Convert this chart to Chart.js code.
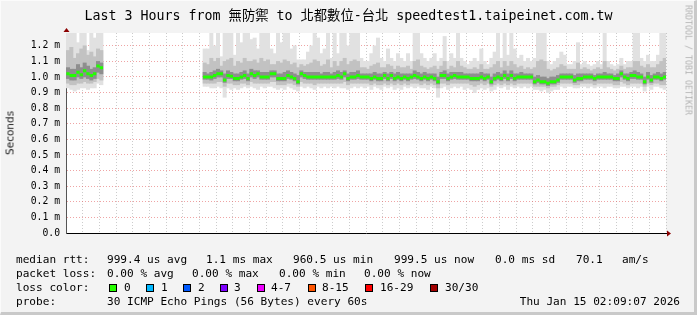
<!DOCTYPE html>
<html>
<head>
<meta charset="utf-8">
<script src="https://cdn.jsdelivr.net/npm/chart.js@4.4.1/dist/chart.umd.min.js"></script>
<style>
  body { margin: 0; background: #f3f3f3; }
  #wrap { position: relative; width: 697px; height: 315px; overflow: hidden; background: #f3f3f3; }
  #wrap:after { content: ""; position: absolute; left: 0; top: 0; right: 0; bottom: 0;
    border-top: 1px solid #fbfbfb; border-left: 1px solid #fbfbfb;
    border-right: 3px solid #c9c9c9; border-bottom: 3px solid #c9c9c9; pointer-events: none; }
  canvas { position: absolute; left: 0; top: 0; }
  .t { position: absolute; font-family: "DejaVu Sans Mono", "Noto Sans CJK TC", monospace;
       font-size: 11.1px; line-height: 11px; color: #000; white-space: pre; }
  .box { position: absolute; width: 6px; height: 6px; border: 1px solid #000; top: 284px; }
</style>
</head>
<body>
<div id="wrap">
  <canvas id="c" width="697" height="315"></canvas>

  <div class="t" style="left:0;width:697px;text-align:center;top:9px;font-size:13.3px;line-height:13px">Last 3 Hours from 無防禦 to 北都數位-台北 speedtest1.taipeinet.com.tw</div>
  <div class="t" style="left:10px;top:133px;font-family:'DejaVu Sans';font-size:10.5px;color:#222;transform:translate(-50%,-50%) rotate(-90deg)">Seconds</div>
  <div class="t" style="left:688px;top:60px;font-size:8.3px;color:#b4b4b4;transform:translate(-50%,-50%) rotate(90deg)">RRDTOOL / TOBI OETIKER</div>

  <div class="t" style="left:16px;top:254px">median rtt:</div>
  <div class="t" style="left:107px;top:254px">999.4 us avg</div>
  <div class="t" style="left:206px;top:254px">1.1 ms max</div>
  <div class="t" style="left:293px;top:254px">960.5 us min</div>
  <div class="t" style="left:394px;top:254px">999.5 us now</div>
  <div class="t" style="left:495px;top:254px">0.0 ms sd</div>
  <div class="t" style="left:576px;top:254px">70.1</div>
  <div class="t" style="left:622px;top:254px">am/s</div>

  <div class="t" style="left:16px;top:268px">packet loss:</div>
  <div class="t" style="left:107px;top:268px">0.00 % avg</div>
  <div class="t" style="left:192px;top:268px">0.00 % max</div>
  <div class="t" style="left:279px;top:268px">0.00 % min</div>
  <div class="t" style="left:364px;top:268px">0.00 % now</div>

  <div class="t" style="left:16px;top:282px">loss color:</div>
  <div id="lossKey"></div>

  <div class="t" style="left:16px;top:296px">probe:</div>
  <div class="t" style="left:107px;top:296px">30 ICMP Echo Pings (56 Bytes) every 60s</div>
  <div class="t" style="right:17px;top:296px">Thu Jan 15 02:09:07 2026</div>
</div>

<script>
// ====== data: one step per 60s, minutes relative to 00:00 ======
const FIRST_STEP = -51;          // 23:09
const GAP = Array(30).fill(null); // no data 23:20 .. 23:50

const medianMs = [
  1.02,1.01,1.01,1.03,1.015,1.04,1.02,1.01,1.02,1.07,1.06,
  ...GAP,
  1.00,1.00,1.00,1.01,1.02,1.02,0.98,1.01,1.005,0.99,
  0.99,1.00,1.01,0.99,1.02,1.01,1.02,1.00,1.00,1.00,
  1.02,1.02,0.99,0.99,0.99,1.01,1.00,0.99,0.97,1.02,
  1.01,1.00,1.00,1.00,1.00,1.00,1.00,1.00,1.00,1.00,
  1.01,1.00,1.02,0.99,1.00,1.00,1.01,1.00,1.00,1.00,
  0.99,1.00,0.99,0.99,1.01,0.99,1.01,0.99,1.00,0.99,
  1.00,0.99,1.00,1.01,1.00,0.99,1.00,0.99,1.00,0.99,
  0.97,1.01,1.01,0.99,1.00,1.01,1.00,1.00,1.00,1.00,
  0.99,0.99,0.99,1.00,0.99,1.00,0.97,0.99,1.00,0.99,
  1.01,0.99,1.01,0.99,1.00,1.00,1.00,1.00,1.00,0.97,
  0.98,0.97,0.97,0.96,0.97,0.97,0.98,1.00,1.00,1.00,
  1.00,0.98,0.99,0.99,1.00,1.00,1.00,0.99,1.00,1.00,
  1.00,1.00,1.00,0.99,0.99,1.02,1.00,0.99,1.01,1.01,
  1.00,1.00,0.97,1.00,0.98,1.00,1.00,0.99,1.00
];

const maxMs = [
  1.3,1.3,1.3,1.22,1.3,1.3,1.17,1.3,1.25,1.3,1.3,
  ...GAP,
  1.18,1.18,1.3,1.2,1.3,1.13,1.3,1.3,1.3,1.14,
  1.3,1.22,1.3,1.3,1.24,1.25,1.18,1.3,1.3,1.3,
  1.18,1.15,1.3,1.22,1.3,1.3,1.18,1.2,1.11,1.11,
  1.11,1.16,1.2,1.3,1.25,1.15,1.18,1.3,1.12,1.3,
  1.15,1.3,1.3,1.2,1.3,1.3,1.3,1.12,1.1,1.1,
  1.15,1.2,1.25,1.12,1.1,1.18,1.12,1.1,1.15,1.12,
  1.1,1.15,1.1,1.3,1.3,1.15,1.12,1.1,1.12,1.15,
  1.1,1.12,1.26,1.1,1.15,1.12,1.3,1.12,1.1,1.08,
  1.1,1.12,1.1,1.18,1.1,1.08,1.12,1.16,1.28,1.12,
  1.3,1.14,1.3,1.18,1.12,1.14,1.1,1.12,1.1,1.12,
  1.3,1.3,1.3,1.1,1.08,1.1,1.12,1.16,1.14,1.08,
  1.08,1.1,1.22,1.08,1.1,1.08,1.07,1.08,1.1,1.08,
  1.3,1.1,1.08,1.07,1.08,1.12,1.08,1.1,1.1,1.3,
  1.3,1.12,1.1,1.14,1.1,1.1,1.14,1.3,1.3
];

const minMs = [
  0.93,0.92,0.91,0.92,0.93,0.93,0.92,0.93,0.93,0.96,0.95,
  ...GAP,
  0.94,0.94,0.93,0.93,0.94,0.93,0.87,0.93,0.92,0.93,
  0.92,0.93,0.94,0.93,0.94,0.93,0.92,0.94,0.93,0.94,
  0.94,0.93,0.92,0.93,0.92,0.94,0.93,0.92,0.91,0.94,
  0.93,0.94,0.93,0.92,0.94,0.93,0.94,0.93,0.94,0.93,
  0.94,0.93,0.93,0.92,0.93,0.94,0.93,0.94,0.93,0.94,
  0.92,0.94,0.93,0.92,0.94,0.93,0.94,0.92,0.93,0.92,
  0.94,0.93,0.94,0.93,0.94,0.93,0.93,0.92,0.94,0.93,
  0.87,0.93,0.94,0.92,0.93,0.94,0.93,0.94,0.92,0.93,
  0.92,0.90,0.92,0.93,0.92,0.93,0.91,0.92,0.94,0.93,
  0.94,0.92,0.94,0.93,0.94,0.93,0.94,0.93,0.94,0.92,
  0.92,0.91,0.92,0.90,0.91,0.92,0.92,0.94,0.93,0.94,
  0.94,0.93,0.93,0.94,0.94,0.93,0.94,0.93,0.94,0.94,
  0.93,0.94,0.94,0.93,0.93,0.94,0.94,0.93,0.94,0.94,
  0.93,0.94,0.91,0.94,0.92,0.94,0.94,0.93,0.92
];

const p90Ms = [
  1.17,1.19,1.12,1.15,1.18,1.2,1.14,1.16,1.13,1.18,1.17,
  ...GAP,
  1.09,1.08,1.12,1.1,1.12,1.07,1.1,1.11,1.12,1.07,
  1.1,1.09,1.12,1.1,1.1,1.11,1.09,1.12,1.1,1.11,
  1.08,1.08,1.1,1.09,1.11,1.1,1.08,1.09,1.06,1.08,
  1.07,1.08,1.09,1.11,1.1,1.07,1.08,1.11,1.06,1.1,
  1.07,1.1,1.12,1.08,1.1,1.11,1.1,1.06,1.06,1.05,
  1.07,1.08,1.09,1.06,1.06,1.08,1.07,1.05,1.07,1.06,
  1.06,1.07,1.05,1.1,1.11,1.07,1.06,1.05,1.06,1.07,
  1.05,1.07,1.1,1.05,1.07,1.06,1.1,1.07,1.06,1.05,
  1.05,1.06,1.05,1.08,1.05,1.05,1.06,1.08,1.1,1.06,
  1.1,1.07,1.1,1.08,1.06,1.07,1.05,1.06,1.05,1.06,
  1.1,1.11,1.1,1.05,1.04,1.05,1.06,1.08,1.07,1.05,
  1.05,1.05,1.09,1.05,1.06,1.05,1.04,1.05,1.06,1.05,
  1.1,1.06,1.05,1.04,1.05,1.07,1.05,1.06,1.06,1.1,
  1.1,1.07,1.06,1.08,1.06,1.06,1.08,1.1,1.12
];

const p10Ms = [
  0.96,0.95,0.95,0.96,0.96,0.97,0.96,0.96,0.97,0.99,0.98,
  ...GAP,
  0.96,0.96,0.96,0.96,0.97,0.97,0.94,0.96,0.96,0.95,
  0.95,0.96,0.96,0.95,0.97,0.96,0.96,0.96,0.96,0.96,
  0.97,0.97,0.95,0.95,0.95,0.96,0.96,0.95,0.94,0.97,
  0.96,0.96,0.96,0.95,0.96,0.96,0.96,0.96,0.96,0.96,
  0.96,0.96,0.97,0.95,0.96,0.96,0.96,0.96,0.96,0.96,
  0.95,0.96,0.95,0.95,0.96,0.95,0.96,0.95,0.96,0.95,
  0.96,0.95,0.96,0.96,0.96,0.95,0.96,0.95,0.96,0.95,
  0.93,0.96,0.96,0.95,0.96,0.96,0.96,0.96,0.96,0.96,
  0.95,0.94,0.95,0.96,0.95,0.96,0.94,0.95,0.96,0.95,
  0.96,0.95,0.96,0.95,0.96,0.96,0.96,0.96,0.96,0.94,
  0.94,0.94,0.94,0.93,0.94,0.94,0.95,0.96,0.96,0.96,
  0.96,0.95,0.95,0.96,0.96,0.96,0.96,0.95,0.96,0.96,
  0.96,0.96,0.96,0.95,0.95,0.97,0.96,0.95,0.96,0.96,
  0.96,0.96,0.94,0.96,0.95,0.96,0.96,0.95,0.95
];

const p75Ms = [
  1.06,1.05,1.05,1.08,1.06,1.09,1.07,1.05,1.06,1.1,1.09,
  ...GAP,
  1.03,1.02,1.03,1.04,1.05,1.04,1.02,1.04,1.03,1.02,
  1.02,1.03,1.04,1.02,1.05,1.04,1.04,1.03,1.03,1.03,
  1.04,1.04,1.02,1.02,1.03,1.04,1.03,1.02,1.01,1.04,
  1.03,1.03,1.03,1.03,1.03,1.02,1.03,1.03,1.02,1.03,
  1.04,1.03,1.04,1.02,1.03,1.03,1.04,1.02,1.02,1.02,
  1.02,1.03,1.02,1.02,1.03,1.02,1.03,1.02,1.03,1.02,
  1.02,1.02,1.02,1.04,1.03,1.02,1.03,1.02,1.02,1.02,
  1.0,1.03,1.04,1.02,1.03,1.03,1.03,1.03,1.02,1.02,
  1.02,1.02,1.02,1.03,1.02,1.02,1.0,1.02,1.03,1.02,
  1.04,1.02,1.04,1.02,1.02,1.03,1.02,1.02,1.02,1.0,
  1.01,1.0,1.0,0.99,1.0,1.0,1.01,1.02,1.02,1.02,
  1.02,1.01,1.02,1.02,1.02,1.02,1.02,1.01,1.02,1.02,
  1.03,1.02,1.02,1.01,1.02,1.04,1.02,1.02,1.03,1.04,
  1.03,1.02,1.0,1.03,1.01,1.02,1.03,1.02,1.03
];

const p25Ms = [
  0.99,0.98,0.98,1.0,0.99,1.0,0.99,0.98,0.99,1.03,1.02,
  ...GAP,
  0.985,0.985,0.98,0.99,1.0,1.0,0.965,0.99,0.99,0.975,
  0.975,0.985,0.99,0.975,1.0,0.99,1.0,0.985,0.985,0.985,
  1.0,1.0,0.975,0.975,0.975,0.99,0.985,0.975,0.955,1.0,
  0.99,0.985,0.985,0.985,0.985,0.985,0.985,0.985,0.985,0.985,
  0.99,0.985,1.0,0.975,0.985,0.985,0.99,0.985,0.985,0.985,
  0.975,0.985,0.975,0.975,0.99,0.975,0.99,0.975,0.985,0.975,
  0.985,0.975,0.985,0.99,0.985,0.975,0.985,0.975,0.985,0.975,
  0.955,0.99,0.99,0.975,0.985,0.99,0.985,0.985,0.985,0.985,
  0.975,0.975,0.975,0.985,0.975,0.985,0.955,0.975,0.985,0.975,
  0.99,0.975,0.99,0.975,0.985,0.985,0.985,0.985,0.985,0.955,
  0.965,0.955,0.955,0.945,0.955,0.955,0.965,0.985,0.985,0.985,
  0.985,0.965,0.975,0.975,0.985,0.985,0.985,0.975,0.985,0.985,
  0.985,0.985,0.985,0.975,0.975,1.0,0.985,0.975,0.99,0.99,
  0.985,0.985,0.955,0.985,0.965,0.985,0.985,0.975,0.985
];

const yTicks = [0,0.1,0.2,0.3,0.4,0.5,0.6,0.7,0.8,0.9,1.0,1.1,1.2];

const lossColors = [
  { label: "0",     color: "#26ff00" },
  { label: "1",     color: "#00b8ff" },
  { label: "2",     color: "#0059ff" },
  { label: "3",     color: "#7e00ff" },
  { label: "4-7",   color: "#ee00ff" },
  { label: "8-15",  color: "#ff5500" },
  { label: "16-29", color: "#ff0000" },
  { label: "30/30", color: "#a10000" }
];
const lossBoxX  = [109, 146, 183, 220, 257, 308, 365, 430];
const lossTextX = [124, 161, 198, 234, 271, 322, 380, 445];

// ====== loss color key ======
const key = document.getElementById("lossKey");
lossColors.forEach((lc, i) => {
  const b = document.createElement("div");
  b.className = "box";
  b.style.left = lossBoxX[i] + "px";
  b.style.background = lc.color;
  key.appendChild(b);
  const t = document.createElement("div");
  t.className = "t";
  t.style.left = lossTextX[i] + "px";
  t.style.top = "282px";
  t.textContent = lc.label;
  key.appendChild(t);
});

// ====== helpers ======
function clock(v) {
  const m = ((Math.round(v) % 1440) + 1440) % 1440;
  return String(Math.floor(m / 60)).padStart(2, "0") + ":" + String(m % 60).padStart(2, "0");
}

function band(lo, hi) {
  const out = [];
  medianMs.forEach((m, i) => {
    if (lo[i] == null || hi[i] == null) return;
    out.push({ x: FIRST_STEP + i + 0.5, y: [lo[i], hi[i]] });
  });
  return out;
}

function medianSteps() {
  const out = [];
  medianMs.forEach((m, i) => {
    if (m == null) return;
    const t = FIRST_STEP + i;
    out.push({ x: t, y: m }, { x: t + 1, y: m }, { x: t + 1, y: null });
  });
  return out;
}

const MAJOR = "rgba(225,90,90,0.55)";
const MINOR = "rgba(170,170,170,0.6)";
const TICK_FONT = { family: "DejaVu Sans Mono", size: 9.75 };

// plot background + axis arrows
const rrdFrame = {
  id: "rrdFrame",
  beforeDraw(chart) {
    const { ctx, chartArea: a } = chart;
    ctx.save();
    ctx.fillStyle = "#ffffff";
    ctx.fillRect(a.left, a.top, a.right - a.left, a.bottom - a.top);
    ctx.restore();
  },
  afterDraw(chart) {
    const { ctx, chartArea: a } = chart;
    ctx.save();
    ctx.fillStyle = "#8b0000";
    ctx.beginPath();
    ctx.moveTo(a.left - 2.5, a.top - 1);
    ctx.lineTo(a.left + 3.5, a.top - 1);
    ctx.lineTo(a.left + 0.5, a.top - 5);
    ctx.closePath();
    ctx.fill();
    ctx.beginPath();
    ctx.moveTo(a.right + 1, a.bottom - 2.5);
    ctx.lineTo(a.right + 1, a.bottom + 3.5);
    ctx.lineTo(a.right + 5, a.bottom + 0.5);
    ctx.closePath();
    ctx.fill();
    ctx.restore();
  }
};

const barBase = { type: "bar", grouped: false, barPercentage: 1, categoryPercentage: 1, borderWidth: 0 };

new Chart(document.getElementById("c"), {
  type: "bar",
  data: {
    datasets: [
      { type: "line", data: medianSteps(), borderColor: "#22ff00", borderWidth: 3,
        pointRadius: 0, spanGaps: false, order: 0, borderCapStyle: "butt" },
      { ...barBase, data: band(p25Ms, p75Ms), backgroundColor: "#8e8e8e", order: 1 },
      { ...barBase, data: band(p10Ms, p90Ms), backgroundColor: "#c2c2c2", order: 2 },
      { ...barBase, data: band(minMs, maxMs), backgroundColor: "#e1e1e1", order: 3 }
    ]
  },
  options: {
    responsive: false,
    animation: false,
    events: [],
    layout: { padding: { top: 33, right: 31, left: 0, bottom: 0 } },
    plugins: { legend: { display: false }, tooltip: { enabled: false } },
    scales: {
      x: {
        type: "linear",
        offset: false,
        min: -51.1,
        max: 128.9,
        afterFit(s) { s.height = 82; },
        ticks: {
          stepSize: 5, autoSkip: false, maxRotation: 0, includeBounds: false,
          padding: 5, color: "#000", font: TICK_FONT,
          callback: v => (Math.round(v) % 20 === 0 ? clock(v) : "")
        },
        grid: {
          offset: false,
          drawTicks: false,
          color: c => (c.tick && Math.round(c.tick.value) % 20 === 0 ? MAJOR : MINOR)
        },
        border: { color: "#000", width: 1, dash: [1, 2] }
      },
      y: {
        min: 0,
        max: 1.282,
        afterFit(s) { s.width = 66; },
        afterBuildTicks(s) { s.ticks = yTicks.map(v => ({ value: v })); },
        ticks: {
          padding: 6, color: "#000", font: TICK_FONT,
          callback: v => (v === 0 ? "0.0" : v.toFixed(1) + " m")
        },
        grid: { drawTicks: false, color: MAJOR },
        border: { color: "#555", width: 1, dash: [1, 2] }
      }
    }
  },
  plugins: [rrdFrame]
});
</script>
</body>
</html>
